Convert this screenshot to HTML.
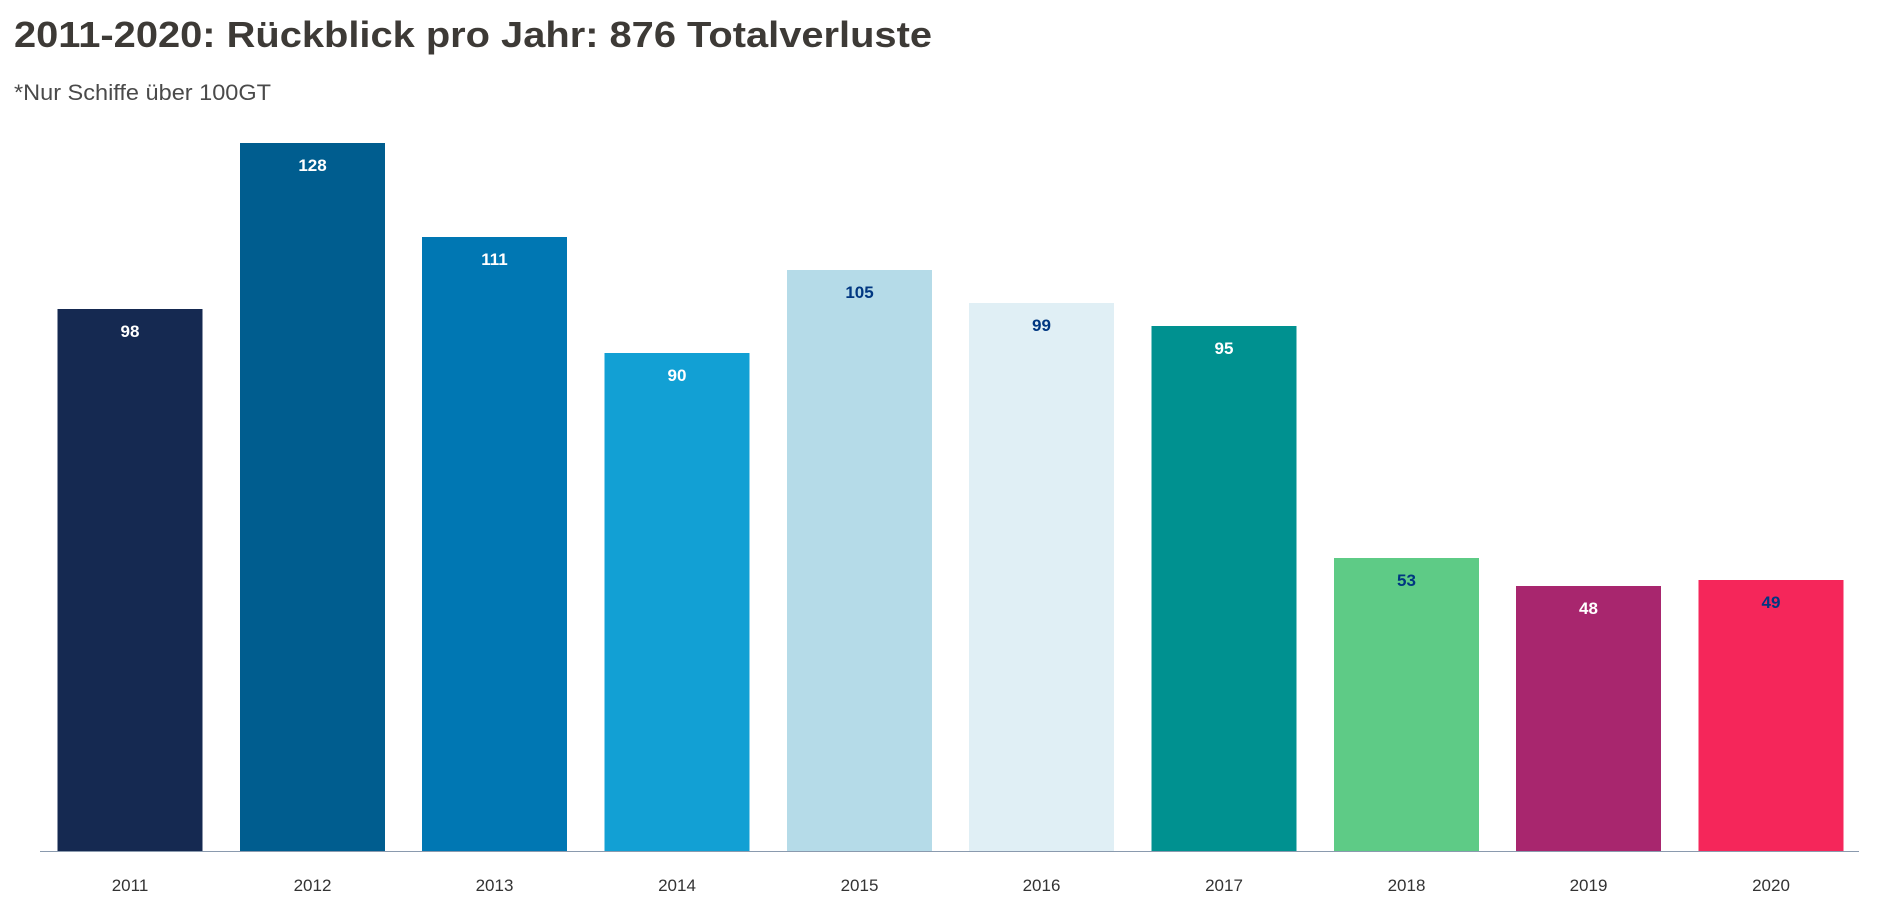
<!DOCTYPE html>
<html><head><meta charset="utf-8"><style>
body{margin:0;width:1879px;height:913px;background:#fff;overflow:hidden;font-family:"Liberation Sans",sans-serif}
</style></head><body>
<svg width="1879" height="913" xmlns="http://www.w3.org/2000/svg" font-family="Liberation Sans, sans-serif">
<text x="14" y="47" font-size="36" font-weight="bold" fill="#3d3a36" textLength="918" lengthAdjust="spacingAndGlyphs">2011-2020: Rückblick pro Jahr: 876 Totalverluste</text>
<text x="14" y="100" font-size="22" fill="#4a4a4a" textLength="257" lengthAdjust="spacingAndGlyphs">*Nur Schiffe über 100GT</text>
<line x1="40" y1="851.5" x2="1859" y2="851.5" stroke="#8a9aae" stroke-width="1"/>
<g font-size="17" font-weight="bold" text-anchor="middle">
<rect x="57.5" y="309" width="145" height="542" fill="#152951"/><text x="130" y="337" fill="#fff">98</text>
<rect x="240" y="143" width="145" height="708" fill="#005d8f"/><text x="312.5" y="171" fill="#fff">128</text>
<rect x="422" y="237" width="145" height="614" fill="#0077b3"/><text x="494.5" y="265" fill="#fff">111</text>
<rect x="604.5" y="353" width="145" height="498" fill="#12a0d4"/><text x="677" y="381" fill="#fff">90</text>
<rect x="787" y="270" width="145" height="581" fill="#b5dbe8"/><text x="859.5" y="298" fill="#003781">105</text>
<rect x="969" y="303" width="145" height="548" fill="#e0eff5"/><text x="1041.5" y="331" fill="#003781">99</text>
<rect x="1151.5" y="326" width="145" height="525" fill="#009190"/><text x="1224" y="354" fill="#fff">95</text>
<rect x="1334" y="558" width="145" height="293" fill="#5ecb86"/><text x="1406.5" y="586" fill="#003781">53</text>
<rect x="1516" y="586" width="145" height="265" fill="#a8266e"/><text x="1588.5" y="614" fill="#fff">48</text>
<rect x="1698.5" y="580" width="145" height="271" fill="#f5265a"/><text x="1771" y="608" fill="#003781">49</text>
</g>
<g font-size="17" fill="#333" text-anchor="middle">
<text x="130" y="891">2011</text><text x="312.5" y="891">2012</text><text x="494.5" y="891">2013</text><text x="677" y="891">2014</text><text x="859.5" y="891">2015</text><text x="1041.5" y="891">2016</text><text x="1224" y="891">2017</text><text x="1406.5" y="891">2018</text><text x="1588.5" y="891">2019</text><text x="1771" y="891">2020</text>
</g>
</svg>
</body></html>
